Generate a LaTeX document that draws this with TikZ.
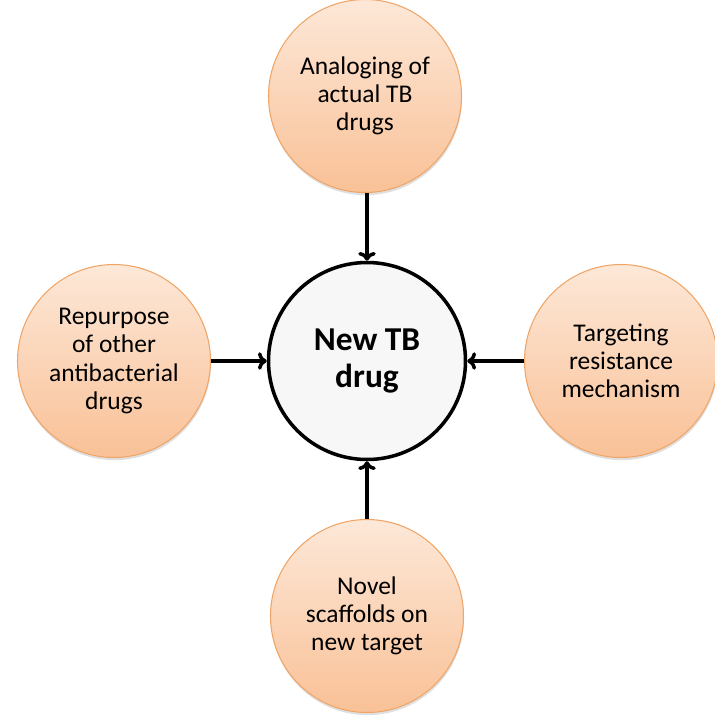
\documentclass[tikz,border=0pt]{standalone}
\usepackage{fontspec}
\setmainfont{Carlito}
\usetikzlibrary{shadows,arrows.meta}
\definecolor{peachtop}{HTML}{FDE8D8}
\definecolor{peachbot}{HTML}{F9C197}
\definecolor{peachline}{HTML}{F0A566}
\begin{document}
\begin{tikzpicture}[
    approach/.style={circle, draw=peachline, line width=0.6pt, top color=peachtop, bottom color=peachbot,
        minimum size=3.86cm, inner sep=0pt, align=center, font=\fontsize{14.5}{16}\selectfont,
        drop shadow={shadow xshift=0.3pt, shadow yshift=-1.5pt, opacity=0.25}},
    hub/.style={circle, draw=black, line width=2pt, fill=white!97!black, minimum size=3.94cm,
        inner sep=0pt, align=center, font=\fontsize{19}{21}\selectfont\bfseries},
    feed/.style={-{To[length=5pt,width=10pt]}, line width=2pt}
]
        \useasboundingbox (0,0) rectangle (14.28,-14.34);

        % New drug in the middle
        \node[hub] (drug) at (7.34,-7.22) {New TB\\drug};

        % Four routes
        \node[approach] (analog) at (7.30,-1.92) {Analoging of\\actual TB\\drugs};
        \node[approach] (repurpose) at (2.28,-7.22) {Repurpose\\of other\\antibacterial\\drugs};
        \node[approach] (resist) at (12.42,-7.22) {Targeting\\resistance\\mechanism};
        \node[approach] (novel) at (7.34,-12.32) {Novel\\scaffolds on\\new target};

        % Connections
        \draw[feed] (analog.south -| drug.north) -- (drug.north);
        \draw[feed] (repurpose) -- (drug);
        \draw[feed] (resist) -- (drug);
        \draw[feed] (novel) -- (drug);
    \end{tikzpicture}
\end{document}
